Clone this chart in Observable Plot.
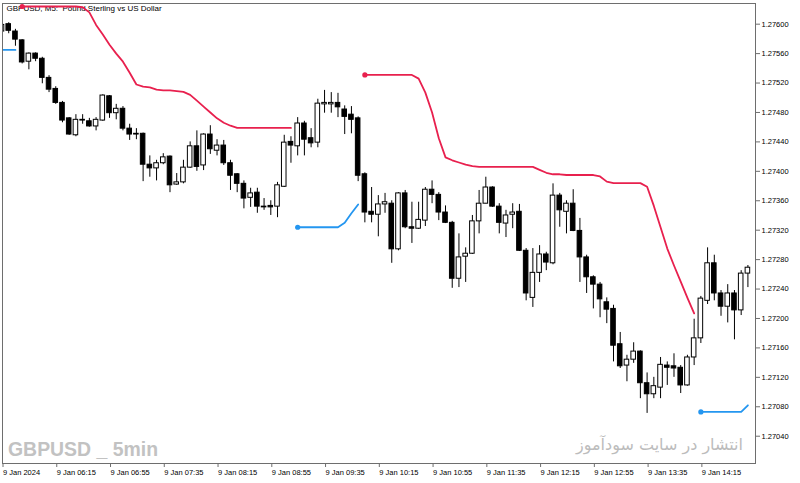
<!DOCTYPE html>
<html><head><meta charset="utf-8">
<script src="https://cdn.jsdelivr.net/npm/d3@7"></script>
<script src="https://cdn.jsdelivr.net/npm/@observablehq/plot@0.6"></script>
<style>
html,body{margin:0;padding:0;background:#fff;}
#chart{position:relative;width:800px;height:483px;overflow:hidden;}
svg{display:block;}
</style></head><body><div id="chart"></div>
<script>
// GBPUSD M5, 9 Jan 2024, bars every 5 minutes starting 05:35 (bar index 0)
const open = [1.27590,1.27600,1.27590,1.27578,1.27549,1.27560,1.27553,1.27527,1.27512,1.27493,
1.27472,1.27449,1.27470,1.27468,1.27461,1.27469,1.27502,1.27479,1.27485,1.27458,
1.27451,1.27451,1.27409,1.27404,1.27411,1.27420,1.27382,1.27385,1.27405,1.27434,
1.27408,1.27450,1.27428,1.27435,1.27411,1.27396,1.27383,1.27364,1.27371,1.27352,
1.27353,1.27352,1.27379,1.27440,1.27434,1.27465,1.27445,1.27439,1.27491,1.27491,
1.27493,1.27484,1.27477,1.27472,1.27396,1.27345,1.27341,1.27355,1.27356,1.27294,
1.27370,1.27324,1.27322,1.27333,1.27375,1.27368,1.27344,1.27330,1.27254,1.27284,
1.27288,1.27332,1.27356,1.27378,1.27352,1.27329,1.27341,1.27345,1.27292,1.27228,
1.27262,1.27287,1.27275,1.27367,1.27345,1.27356,1.27319,1.27283,1.27256,1.27246,
1.27222,1.27213,1.27165,1.27136,1.27144,1.27155,1.27112,1.27097,1.27106,1.27136,
1.27135,1.27133,1.27109,1.27147,1.27173,1.27224,1.27275,1.27234,1.27216,1.27234,
1.27211,1.27261];
const high = [1.27602,1.27602,1.27593,1.27579,1.27561,1.27561,1.27555,1.27530,1.27515,1.27495,
1.27473,1.27477,1.27477,1.27472,1.27473,1.27504,1.27503,1.27491,1.27488,1.27464,
1.27458,1.27452,1.27421,1.27415,1.27424,1.27421,1.27397,1.27415,1.27440,1.27455,
1.27451,1.27462,1.27443,1.27442,1.27415,1.27397,1.27387,1.27377,1.27377,1.27363,
1.27360,1.27385,1.27449,1.27447,1.27473,1.27468,1.27458,1.27498,1.27510,1.27507,
1.27506,1.27489,1.27488,1.27474,1.27398,1.27378,1.27367,1.27370,1.27360,1.27371,
1.27374,1.27358,1.27358,1.27378,1.27387,1.27371,1.27353,1.27332,1.27315,1.27296,
1.27340,1.27374,1.27392,1.27379,1.27356,1.27347,1.27356,1.27355,1.27295,1.27295,
1.27299,1.27290,1.27383,1.27370,1.27360,1.27375,1.27336,1.27286,1.27258,1.27249,
1.27228,1.27218,1.27181,1.27150,1.27167,1.27156,1.27126,1.27120,1.27147,1.27141,
1.27152,1.27136,1.27150,1.27199,1.27230,1.27296,1.27286,1.27238,1.27246,1.27238,
1.27265,1.27272];
const low = [1.27586,1.27587,1.27570,1.27546,1.27538,1.27549,1.27519,1.27507,1.27491,1.27466,
1.27449,1.27447,1.27464,1.27460,1.27455,1.27468,1.27472,1.27470,1.27455,1.27442,
1.27443,1.27386,1.27392,1.27387,1.27409,1.27371,1.27381,1.27383,1.27404,1.27400,
1.27401,1.27423,1.27421,1.27408,1.27374,1.27371,1.27349,1.27351,1.27343,1.27347,
1.27340,1.27337,1.27378,1.27411,1.27421,1.27421,1.27432,1.27432,1.27479,1.27479,
1.27473,1.27450,1.27451,1.27386,1.27330,1.27330,1.27311,1.27343,1.27275,1.27292,
1.27322,1.27302,1.27321,1.27325,1.27356,1.27333,1.27329,1.27241,1.27242,1.27249,
1.27287,1.27315,1.27356,1.27351,1.27315,1.27310,1.27322,1.27291,1.27224,1.27215,
1.27249,1.27265,1.27273,1.27324,1.27315,1.27318,1.27249,1.27234,1.27213,1.27201,
1.27193,1.27141,1.27132,1.27114,1.27139,1.27091,1.27071,1.27091,1.27091,1.27109,
1.27120,1.27098,1.27108,1.27136,1.27166,1.27219,1.27224,1.27203,1.27194,1.27171,
1.27204,1.27242];
const close = [1.27599,1.27591,1.27579,1.27548,1.27560,1.27553,1.27527,1.27511,1.27493,1.27469,
1.27450,1.27470,1.27469,1.27461,1.27470,1.27503,1.27479,1.27485,1.27458,1.27450,
1.27450,1.27409,1.27404,1.27411,1.27419,1.27381,1.27385,1.27405,1.27434,1.27406,
1.27450,1.27430,1.27435,1.27411,1.27394,1.27383,1.27363,1.27370,1.27352,1.27351,
1.27351,1.27381,1.27439,1.27435,1.27465,1.27443,1.27438,1.27492,1.27493,1.27493,
1.27487,1.27474,1.27470,1.27394,1.27344,1.27341,1.27355,1.27358,1.27294,1.27370,
1.27324,1.27322,1.27334,1.27375,1.27368,1.27344,1.27330,1.27254,1.27283,1.27288,
1.27332,1.27356,1.27378,1.27352,1.27330,1.27340,1.27344,1.27292,1.27234,1.27262,
1.27287,1.27276,1.27367,1.27347,1.27356,1.27319,1.27283,1.27256,1.27246,1.27226,
1.27212,1.27163,1.27135,1.27144,1.27155,1.27112,1.27097,1.27108,1.27137,1.27133,
1.27132,1.27109,1.27147,1.27173,1.27227,1.27275,1.27234,1.27216,1.27234,1.27211,
1.27261,1.27269];
// trailing-stop indicator: red line above price (down trend), blue line below price (up trend)
const downLine = [null,null,null,
1.27624,1.27624,1.27624,1.27624,1.27624,1.27624,1.27624,1.27624,1.27624,
1.27623,1.27616,1.27599,1.27586,1.27572,1.27560,1.27549,1.27534,1.27518,1.27515,
1.27514,1.27511,1.27510,1.27510,1.27509,1.27508,1.27504,1.27496,1.27488,1.27480,
1.27472,1.27466,1.27462,
1.27459,1.27459,1.27459,1.27459,1.27459,1.27459,1.27459,1.27459,1.27459,
null,null,null,null,null,null,null,null,null,null,
1.27531,1.27531,1.27531,1.27531,1.27531,1.27531,1.27531,1.27531,
1.27526,1.27507,1.27480,1.27445,1.27419,1.27415,1.27412,1.27409,1.27407,
1.27406,1.27406,1.27406,1.27406,1.27406,1.27406,1.27406,1.27406,1.27406,
1.27402,1.27398,1.27396,1.27396,
1.27395,1.27395,1.27395,1.27395,1.27395,
1.27393,1.27386,
1.27384,1.27384,1.27384,1.27384,1.27384,
1.27379,1.27353,1.27324,1.27295,1.27272,1.27250,1.27228,1.27207,
null,null,null,null,null,null,null,null];
const upLine = [1.27565,1.27565,1.27565,
null,null,null,null,null,null,null,null,null,null,null,null,null,null,null,null,null,null,null,null,
null,null,null,null,null,null,null,null,null,null,null,null,null,null,null,null,null,null,null,null,null,
1.27324,1.27324,1.27324,1.27324,1.27324,1.27324,1.27324,1.27330,1.27343,1.27355,
null,null,null,null,null,null,null,null,null,null,null,null,null,null,null,null,null,null,null,null,null,null,null,null,null,
null,null,null,null,null,null,null,null,null,null,null,null,null,null,null,null,null,null,null,null,null,null,null,null,null,
1.27073,1.27073,1.27073,1.27073,1.27073,1.27073,1.27073,1.27082];
const tickIdx = [0,8,16,24,32,40,48,56,64,72,80,88,96,104];
const tickLabels = ["9 Jan 2024","9 Jan 06:15","9 Jan 06:55","9 Jan 07:35","9 Jan 08:15","9 Jan 08:55","9 Jan 09:35",
"9 Jan 10:15","9 Jan 10:55","9 Jan 11:35","9 Jan 12:15","9 Jan 12:55","9 Jan 13:35","9 Jan 14:15"];
const yTicks = [1.27040,1.27080,1.27120,1.27160,1.27200,1.27240,1.27280,1.27320,1.27360,1.27400,1.27440,1.27480,1.27520,1.27560,1.27600];
const title = "GBPUSD, M5:  Pound Sterling vs US Dollar";
const watermark = "GBPUSD _ 5min";
const credit = "انتشار در سایت سودآموز";
const xDomain = [0.074, 112.13];
const yDomain = [1.270029, 1.276281];

const bars = open.map((o, i) => ({i, open: o, high: high[i], low: low[i], close: close[i]}));
function segments(arr, name) {
  const out = []; let seg = -1; let prev = null;
  arr.forEach((v, i) => { if (v != null) { if (prev == null) seg++; out.push({i, v, seg: name + seg}); } prev = v; });
  return out;
}
const red = segments(downLine, "r");
const blue = segments(upLine, "b");
const starts = pts => pts.filter((d, k) => d.i > 0 && (k === 0 || pts[k - 1].seg !== d.seg));
const labelOf = new Map(tickIdx.map((t, k) => [t, tickLabels[k]]));

const chart = Plot.plot({
  width: 800, height: 483,
  marginTop: 3, marginBottom: 20, marginLeft: 2, marginRight: 45,
  style: {fontFamily: "'Liberation Sans', Arial, sans-serif", fontSize: "7.5px", background: "#fff", color: "#000"},
  x: {type: "linear", domain: xDomain, axis: null, label: null},
  y: {domain: yDomain, axis: null, label: null},
  marks: [
    Plot.text([title], {frameAnchor: "top-left", dx: 4, dy: 2, lineAnchor: "top", textAnchor: "start", fontSize: 8, fill: "#000"}),
    Plot.ruleX(bars, {x: "i", y1: "low", y2: "high", stroke: "#000", strokeWidth: 1, clip: true}),
    Plot.rect(bars, {x1: d => d.i - 0.34, x2: d => d.i + 0.34, y1: "open", y2: "close",
      fill: d => d.close >= d.open ? "#fff" : "#000", stroke: "#000", strokeWidth: 1, clip: true}),
    Plot.line(red, {x: "i", y: "v", z: "seg", stroke: "#e8204e", strokeWidth: 1.8, clip: true}),
    Plot.line(blue, {x: "i", y: "v", z: "seg", stroke: "#2496f0", strokeWidth: 1.8, clip: true}),
    Plot.dot(starts(red), {x: "i", y: "v", r: 2.6, fill: "#e8204e", stroke: "none"}),
    Plot.dot(starts(blue), {x: "i", y: "v", r: 2.6, fill: "#2496f0", stroke: "none"}),
    Plot.frame({stroke: "#6e6e6e"}),
    Plot.axisX({ticks: tickIdx, tickFormat: d => labelOf.get(d), textAnchor: "start", tickSize: 4, tickPadding: 2, dx: 1, stroke: "#6e6e6e", fill: "#000", label: null}),
    Plot.axisY({anchor: "right", ticks: yTicks, tickFormat: d3.format(".5f"), tickSize: 4, tickPadding: 2, stroke: "#6e6e6e", fill: "#000", label: null})
  ]
});
document.getElementById("chart").appendChild(chart);

const svg = d3.select(chart);
svg.append("text")
  .attr("x", 8).attr("y", 456)
  .attr("text-anchor", "start")
  .attr("font-family", "'Liberation Sans', Arial, sans-serif")
  .attr("font-weight", "bold").attr("font-size", 20)
  .attr("fill", "#c2c2c2")
  .attr("textLength", 150).attr("lengthAdjust", "spacingAndGlyphs")
  .text(watermark);
svg.append("text")
  .attr("x", 743).attr("y", 450)
  .attr("text-anchor", "end")
  .attr("font-family", "'DejaVu Sans', sans-serif")
  .attr("font-size", 16)
  .attr("fill", "#bcbcbc")
  .text(credit);
</script></body></html>
